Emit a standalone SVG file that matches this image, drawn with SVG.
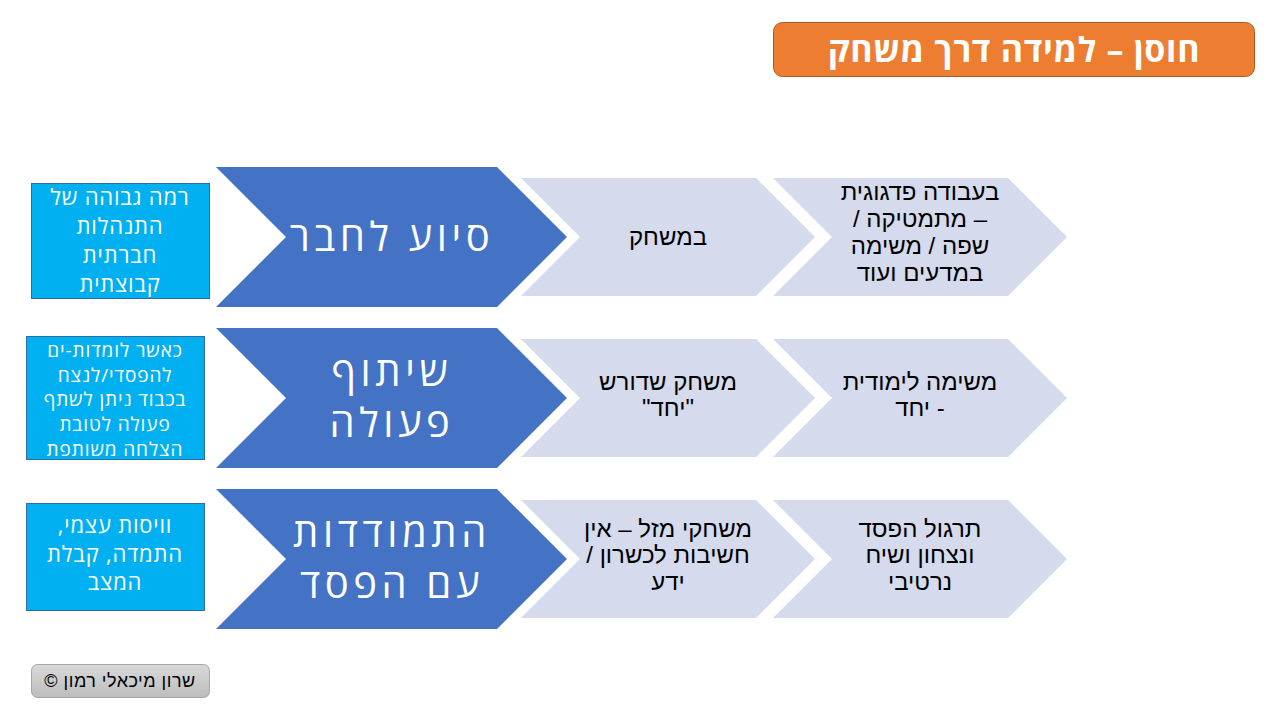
<svg xmlns="http://www.w3.org/2000/svg" width="1280" height="720" viewBox="0 0 1280 720">
<defs>
<style>
.blue{fill:#4472C4;}
.light{fill:#D5DAEC;}
.box{fill:#00B0F0;stroke:#2F6EA5;stroke-width:1;}
.bt{font-family:"Open Sans","DejaVu Sans","Liberation Sans",sans-serif;font-size:40px;letter-spacing:4.6px;fill:#fff;text-anchor:middle;}
.lt{font-family:"Liberation Sans","DejaVu Sans",sans-serif;font-size:24px;fill:#000;text-anchor:middle;}
.kt{font-family:"Open Sans","DejaVu Sans","Liberation Sans",sans-serif;font-size:22px;letter-spacing:0.8px;fill:#fff;text-anchor:middle;}
.ks{font-size:19px;letter-spacing:0.9px;}
.ft{font-family:"Liberation Sans","DejaVu Sans",sans-serif;font-size:18px;letter-spacing:0.5px;fill:#000;text-anchor:middle;}
.tt{font-family:"Open Sans","DejaVu Sans","Liberation Sans",sans-serif;font-size:34px;letter-spacing:0.7px;font-weight:bold;fill:#fff;text-anchor:middle;}
</style>
<linearGradient id="gray" x1="0" y1="0" x2="0" y2="1">
<stop offset="0" stop-color="#D9D9D9"/>
<stop offset="1" stop-color="#BDBDBD"/>
</linearGradient>
</defs>
<rect width="1280" height="720" fill="#fff"/>

<g id="title">
<rect x="773.5" y="22.5" width="481" height="54" rx="9" fill="#ED7D31" stroke="#AE5A21"/>
<text class="tt" direction="rtl" x="1014" y="62">חוסן – למידה דרך משחק</text>
</g>

<g id="row1">
<g id="row1-main">
<polygon class="blue" points="216,167 497,167 567,237 497,307 216,307 286,237"/>
<text class="bt" direction="rtl" x="392" y="251">סיוע לחבר</text>
</g>
<g id="row1-mid">
<polygon class="light" points="521,178 756,178 815,237 756,296 521,296 580,237"/>
<text class="lt" direction="rtl" x="668" y="245">במשחק</text>
</g>
<g id="row1-right">
<polygon class="light" points="773,178 1008,178 1067,237 1008,296 773,296 832,237"/>
<text class="lt" direction="rtl" x="920" y="200">בעבודה פדגוגית</text>
<text class="lt" direction="rtl" x="920" y="227">– מתמטיקה /</text>
<text class="lt" direction="rtl" x="920" y="254">שפה / משימה</text>
<text class="lt" direction="rtl" x="920" y="281">במדעים ועוד</text>
</g>
<g id="row1-box">
<rect class="box" x="31.5" y="183.5" width="178" height="115"/>
<text class="kt" direction="rtl" x="120" y="205">רמה גבוהה של</text>
<text class="kt" direction="rtl" x="120" y="234">התנהלות</text>
<text class="kt" direction="rtl" x="120" y="263">חברתית</text>
<text class="kt" direction="rtl" x="120" y="292">קבוצתית</text>
</g>
</g>

<g id="row2">
<g id="row2-main">
<polygon class="blue" points="216,328 497,328 567,398 497,468 216,468 286,398"/>
<text class="bt" direction="rtl" x="392" y="386">שיתוף</text>
<text class="bt" direction="rtl" x="392" y="437">פעולה</text>
</g>
<g id="row2-mid">
<polygon class="light" points="521,339 756,339 815,398 756,457 521,457 580,398"/>
<text class="lt" direction="rtl" x="668" y="390">משחק שדורש</text>
<text class="lt" direction="rtl" x="668" y="416">"יחד"</text>
</g>
<g id="row2-right">
<polygon class="light" points="773,339 1008,339 1067,398 1008,457 773,457 832,398"/>
<text class="lt" direction="rtl" x="920" y="390">משימה לימודית</text>
<text class="lt" direction="rtl" x="920" y="416">- יחד</text>
</g>
<g id="row2-box">
<rect class="box" x="26.5" y="336.5" width="178" height="123"/>
<text class="kt ks" direction="rtl" x="115" y="357">כאשר לומדות-ים</text>
<text class="kt ks" direction="rtl" x="115" y="382">להפסדי/לנצח</text>
<text class="kt ks" direction="rtl" x="115" y="406">בכבוד ניתן לשתף</text>
<text class="kt ks" direction="rtl" x="115" y="431">פעולה לטובת</text>
<text class="kt ks" direction="rtl" x="115" y="456">הצלחה משותפת</text>
</g>
</g>

<g id="row3">
<g id="row3-main">
<polygon class="blue" points="216,489 497,489 567,559 497,629 216,629 286,559"/>
<text class="bt" direction="rtl" x="392" y="547">התמודדות</text>
<text class="bt" direction="rtl" x="392" y="598">עם הפסד</text>
</g>
<g id="row3-mid">
<polygon class="light" points="521,500 756,500 815,559 756,618 521,618 580,559"/>
<text class="lt" direction="rtl" x="668" y="537">משחקי מזל – אין</text>
<text class="lt" direction="rtl" x="668" y="563">חשיבות לכשרון /</text>
<text class="lt" direction="rtl" x="668" y="590">ידע</text>
</g>
<g id="row3-right">
<polygon class="light" points="773,500 1008,500 1067,559 1008,618 773,618 832,559"/>
<text class="lt" direction="rtl" x="920" y="537">תרגול הפסד</text>
<text class="lt" direction="rtl" x="920" y="563">ונצחון ושיח</text>
<text class="lt" direction="rtl" x="920" y="590">נרטיבי</text>
</g>
<g id="row3-box">
<rect class="box" x="26.5" y="503.5" width="178" height="107"/>
<text class="kt" direction="rtl" x="115" y="533">וויסות עצמי,</text>
<text class="kt" direction="rtl" x="115" y="562">התמדה, קבלת</text>
<text class="kt" direction="rtl" x="115" y="590">המצב</text>
</g>
</g>

<g id="connectors"></g>

<g id="footer">
<rect x="31.5" y="664.5" width="178" height="33" rx="6" fill="url(#gray)" stroke="#A6A6A6"/>
<text class="ft" direction="rtl" x="120" y="687">שרון מיכאלי רמון ©</text>
</g>
</svg>
